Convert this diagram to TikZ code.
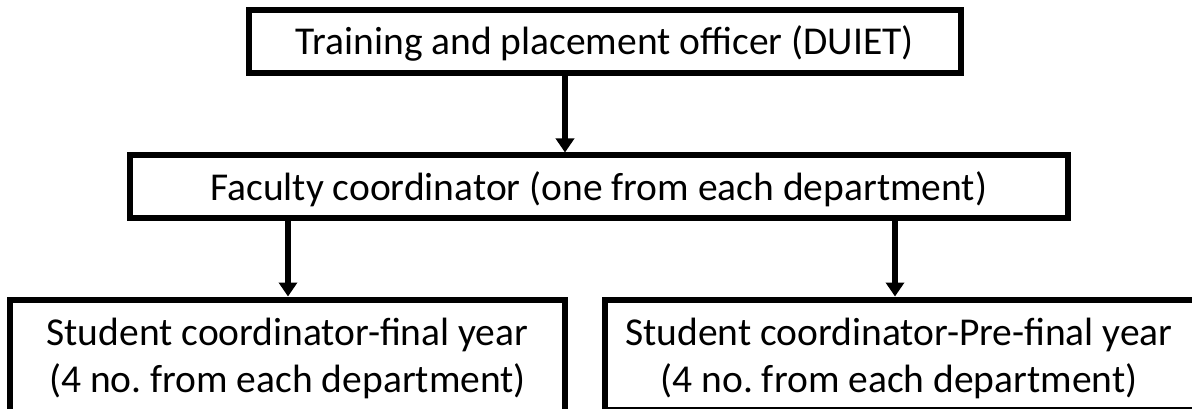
\documentclass[tikz,border=0pt]{standalone}
\usepackage{fontspec}
\setmainfont{Carlito}
\usetikzlibrary{arrows.meta}
\frenchspacing
\tikzset{
  box/.style={draw=black, line width=6pt, rectangle, inner sep=0pt},
  boxtext/.style={font=\fontsize{39.5}{47}\selectfont, text height=32pt, text depth=5pt},
  txt/.style={font=\fontsize{39.5}{47}\selectfont, inner sep=0pt, align=center},
  arr/.style={line width=6pt, -{Triangle[width=18pt,length=14pt]}},
}
\begin{document}
\begin{tikzpicture}[x=1pt,y=-1pt]
\useasboundingbox (0,0) rectangle (1192,409);
\clip (0,0) rectangle (1192,409);
\fill[white] (0,0) rectangle (1192,409);
\node[box, boxtext, minimum width=712.5pt, minimum height=63pt] (top) at (604.75,41.5) {Training and placement officer (DUIET)};
\node[box, boxtext, minimum width=937.5pt, minimum height=62.5pt] (mid) at (598.75,186.75) {Faculty coordinator (one from each department)};
\node[box, minimum width=555pt, minimum height=150.5pt] (sl) at (287.5,374.75) {};
\node[box, minimum width=591pt, minimum height=110.5pt] (sr) at (900.5,354.75) {};
\node[txt] (slt) at (287.5,358) {Student coordinator-final year\\(4 no. from each department)};
\node[txt] (srt) at (899,358) {Student coordinator-Pre-final year\\(4 no. from each department)};
\coordinate (a1) at (565,0);
\coordinate (a2) at (288,0);
\coordinate (a3) at (895,0);
\draw[arr] (top.south -| a1) -- (mid.north -| a1);
\draw[arr] (mid.south -| a2) -- (sl.north -| a2);
\draw[arr] (mid.south -| a3) -- (sr.north -| a3);
\end{tikzpicture}
\end{document}
